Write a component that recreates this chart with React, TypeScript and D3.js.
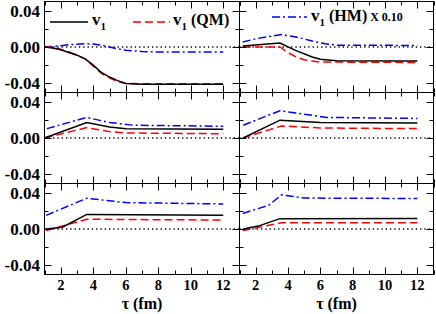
import React from "react";
import * as d3 from "d3";

// ---- data (tau in fm, values of v1) ----
const p1Tau = [1, 1.5, 2, 2.5, 3, 3.5, 4, 4.5, 5, 5.5, 6, 7, 8, 9, 10, 11, 12];
const p1V1 = [0, -0.001, -0.003, -0.006, -0.009, -0.013, -0.02, -0.028, -0.033, -0.037, -0.04, -0.041, -0.041, -0.041, -0.041, -0.041, -0.041];
const p1QM = [0.0005, -0.0005, -0.0025, -0.0055, -0.009, -0.013, -0.021, -0.029, -0.034, -0.038, -0.04, -0.0405, -0.0405, -0.0405, -0.0405, -0.0405, -0.0405];
const p1HM = [0, 0.0005, 0.0015, 0.0025, 0.003, 0.0035, 0.0033, 0.002, 0, -0.002, -0.0035, -0.005, -0.0055, -0.0055, -0.0055, -0.0055, -0.0055];

const p2TauV1 = [1.2, 3.5, 4.5, 5.5, 6, 7, 12];
const p2V1 = [0.001, 0.0043, -0.004, -0.011, -0.0135, -0.015, -0.0155];
const p2TauQM = [1.2, 3.5, 4, 4.5, 5, 5.5, 6, 12];
const p2QM = [0, 0, -0.006, -0.011, -0.014, -0.0155, -0.0165, -0.017];
const p2TauHM = [1.2, 2, 3, 3.6, 4.5, 5.5, 6.3, 7, 12];
const p2HM = [0.0054, 0.009, 0.012, 0.0136, 0.011, 0.0065, 0.0036, 0.002, 0.0017];

const p3TauV1 = [1, 3.6, 5, 6, 12];
const p3V1 = [0, 0.017, 0.012, 0.0103, 0.0097];
const p3TauQM = [1, 3.6, 5, 6, 12];
const p3QM = [0, 0.0114, 0.007, 0.0055, 0.0047];
const p3TauHM = [1.15, 3.6, 5, 6.5, 12];
const p3HM = [0.0103, 0.0226, 0.017, 0.014, 0.0129];

const p4TauV1 = [1.23, 3.5, 6, 12];
const p4V1 = [0, 0.0196, 0.017, 0.0166];
const p4TauQM = [1.2, 3.6, 6, 12];
const p4QM = [0, 0.0132, 0.011, 0.0103];
const p4TauHM = [1.23, 3.5, 6.4, 12];
const p4HM = [0.014, 0.03, 0.0226, 0.0215];

const p5TauV1 = [1.1, 2.1, 3.6, 12];
const p5V1 = [0, 0.002, 0.016, 0.015];
const p5TauQM = [1.1, 3.6, 12];
const p5QM = [-0.0017, 0.0107, 0.0098];
const p5TauHM = [1.1, 3.6, 6, 12];
const p5HM = [0.015, 0.0338, 0.029, 0.0275];

const p6TauV1 = [1.23, 2.16, 3.5, 12];
const p6V1 = [0, 0.0032, 0.0114, 0.0115];
const p6TauQM = [1.2, 3.6, 12];
const p6QM = [-0.0017, 0.0069, 0.007];
const p6TauHM = [1.2, 2.8, 3.6, 5, 12];
const p6HM = [0.0171, 0.026, 0.0375, 0.034, 0.0335];

const xMajor = [2, 4, 6, 8, 10, 12];
const xMinor = [1, 3, 5, 7, 9, 11, 13];
const yMajor = [-0.04, 0, 0.04];
const yMinor = [-0.02, 0.02];
const yLabels = ["-0.04", "0.00", "0.04"];

type S = { t: number[]; v: number[] };
const panels: { v1: S; qm: S; hm: S }[] = [
  { v1: { t: p1Tau, v: p1V1 }, qm: { t: p1Tau, v: p1QM }, hm: { t: p1Tau, v: p1HM } },
  { v1: { t: p2TauV1, v: p2V1 }, qm: { t: p2TauQM, v: p2QM }, hm: { t: p2TauHM, v: p2HM } },
  { v1: { t: p3TauV1, v: p3V1 }, qm: { t: p3TauQM, v: p3QM }, hm: { t: p3TauHM, v: p3HM } },
  { v1: { t: p4TauV1, v: p4V1 }, qm: { t: p4TauQM, v: p4QM }, hm: { t: p4TauHM, v: p4HM } },
  { v1: { t: p5TauV1, v: p5V1 }, qm: { t: p5TauQM, v: p5QM }, hm: { t: p5TauHM, v: p5HM } },
  { v1: { t: p6TauV1, v: p6V1 }, qm: { t: p6TauQM, v: p6QM }, hm: { t: p6TauHM, v: p6HM } },
];

const W = 436;
const H = 314;
const colX = [44.5, 239.5, 433.5];
const rowY = [1.5, 92.5, 183.5, 274.5];
const FONT = "'Liberation Serif', 'Times New Roman', serif";

function Panel({ idx }: { idx: number }) {
  const c = idx % 2;
  const r = Math.floor(idx / 2);
  const x0 = colX[c], x1 = colX[c + 1];
  const y0 = rowY[r], y1 = rowY[r + 1];
  const x = d3.scaleLinear().domain([1, 13]).range([x0, x1]);
  const y = d3.scaleLinear().domain([-0.05, 0.05]).range([y1, y0]);
  const p = panels[idx];
  const mk = (s: S) =>
    d3.line<number>().x((_, i) => x(s.t[i])).y((d) => y(d))(s.v) || "";
  const tickX = (vals: number[], len: number) =>
    vals.map((v) => (
      <g key={"x" + v + len}>
        <line x1={Math.round(x(v)) + 0.5} x2={Math.round(x(v)) + 0.5} y1={y1} y2={y1 - len} stroke="#000" />
        <line x1={Math.round(x(v)) + 0.5} x2={Math.round(x(v)) + 0.5} y1={y0} y2={y0 + len} stroke="#000" />
      </g>
    ));
  const tickY = (vals: number[], len: number) =>
    vals.map((v) => (
      <g key={"y" + v + len}>
        <line x1={x0} x2={x0 + len} y1={Math.round(y(v)) + 0.5} y2={Math.round(y(v)) + 0.5} stroke="#000" />
        <line x1={x1} x2={x1 - len} y1={Math.round(y(v)) + 0.5} y2={Math.round(y(v)) + 0.5} stroke="#000" />
      </g>
    ));
  return (
    <g>
      <line x1={x0} x2={x1} y1={y(0)} y2={y(0)} stroke="#000" strokeWidth={1.3} strokeDasharray="1.3 3" />
      <path d={mk(p.hm)} fill="none" stroke="#0000ff" strokeWidth={1.5} strokeDasharray="8 3 2 3" />
      <path d={mk(p.qm)} fill="none" stroke="#ff0000" strokeWidth={1.5} strokeDasharray="8 4" />
      <path d={mk(p.v1)} fill="none" stroke="#000" strokeWidth={1.5} />
      {tickX(xMajor, 7)}
      {tickX(xMinor, 4)}
      {tickY(yMajor, 7)}
      {tickY(yMinor, 4)}
      <rect x={x0} y={y0} width={x1 - x0} height={y1 - y0} fill="none" stroke="#000" />
      {c === 0 &&
        yMajor.map((v, i) => (
          <text key={"yl" + v} x={40} y={y(v) + 6} textAnchor="end" fontSize={17} fontWeight="bold" fontFamily={FONT}>
            {yLabels[i]}
          </text>
        ))}
      {r === 2 &&
        xMajor.map((v) => (
          <text key={"xl" + v} x={x(v)} y={290} textAnchor="middle" fontSize={14.5} fontWeight="bold" fontFamily={FONT}>
            {v}
          </text>
        ))}
      {r === 2 && (
        <text x={(x0 + x1) / 2} y={309} textAnchor="middle" fontSize={16} fontWeight="bold" fontFamily={FONT}>
          τ (fm)
        </text>
      )}
    </g>
  );
}

export default function App() {
  return (
    <svg width={W} height={H} style={{ position: "absolute", left: 0, top: 0, background: "#fff" }}>
      <rect x={0} y={0} width={W} height={H} fill="#fff" />
      {panels.map((_, i) => (
        <Panel key={i} idx={i} />
      ))}
      {/* legends */}
      <line x1={50} x2={88} y1={22} y2={22} stroke="#000" strokeWidth={1.5} />
      <text x={92} y={25} fontSize={17} fontWeight="bold" fontFamily={FONT}>
        v<tspan fontSize={11} dy={5}>1</tspan>
      </text>
      <line x1={133} x2={170} y1={22} y2={22} stroke="#ff0000" strokeWidth={1.5} strokeDasharray="8 4" />
      <text x={173} y={25} fontSize={17} fontWeight="bold" fontFamily={FONT}>
        v<tspan fontSize={11} dy={5}>1</tspan>
        <tspan dy={-5} fontSize={16}> (QM)</tspan>
      </text>
      <line x1={272} x2={307} y1={17} y2={17} stroke="#0000ff" strokeWidth={1.5} strokeDasharray="8 3 2 3" />
      <text x={311} y={21} fontSize={17} fontWeight="bold" fontFamily={FONT}>
        v<tspan fontSize={11} dy={5}>1</tspan>
        <tspan dy={-5} fontSize={16}> (HM)</tspan>
        <tspan fontSize={12}> X 0.10</tspan>
      </text>
    </svg>
  );
}
